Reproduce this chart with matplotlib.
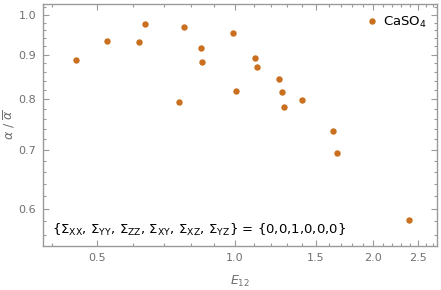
import matplotlib
matplotlib.use("Agg")
import matplotlib.pyplot as plt
from matplotlib.ticker import FixedLocator, NullFormatter

# E12 values and alpha / mean alpha
e12 = [0.450, 0.527, 0.618, 0.636, 0.755, 0.773, 0.842, 0.849, 0.989, 1.004,
       1.104, 1.115, 1.249, 1.264, 1.276, 1.397, 1.637, 1.665, 2.392]
ratio = [0.887, 0.934, 0.930, 0.975, 0.795, 0.969, 0.917, 0.883, 0.954, 0.818,
         0.893, 0.871, 0.844, 0.815, 0.784, 0.798, 0.736, 0.694, 0.582]

x_major = [0.5, 1.0, 1.5, 2.0, 2.5]
x_minor = [0.4, 0.6, 0.7, 0.8, 0.9, 1.1, 1.2, 1.3, 1.4, 1.6, 1.7, 1.8, 1.9,
           2.1, 2.2, 2.3, 2.4, 2.6, 2.7]
y_major = [0.6, 0.7, 0.8, 0.9, 1.0]
y_minor = [0.56, 0.58, 0.62, 0.64, 0.66, 0.68, 0.72, 0.74, 0.76, 0.78,
           0.82, 0.84, 0.86, 0.88, 0.92, 0.94, 0.96, 0.98, 1.02]

sigma_names = ["XX", "YY", "ZZ", "XY", "XZ", "YZ"]
sigma_values = [0, 0, 1, 0, 0, 0]

dot_color = "#c96f1f"
frame_color = "#9a9a9a"
label_color = "#707070"

fig = plt.figure(figsize=(4.41, 2.90), dpi=100)
ax = fig.add_axes([0.0975, 0.152, 0.8935, 0.834])

ax.plot(e12, ratio, "o", color=dot_color, ms=4.6, mec="none", label="CaSO$_4$")

ax.set_xscale("log")
ax.set_yscale("log")
ax.set_xlim(0.382, 2.75)
ax.set_ylim(0.5436, 1.029)

ax.xaxis.set_major_locator(FixedLocator(x_major))
ax.xaxis.set_minor_locator(FixedLocator(x_minor))
ax.yaxis.set_major_locator(FixedLocator(y_major))
ax.yaxis.set_minor_locator(FixedLocator(y_minor))
ax.set_xticklabels(["%.1f" % v for v in x_major])
ax.set_yticklabels(["%.1f" % v for v in y_major])
ax.xaxis.set_minor_formatter(NullFormatter())
ax.yaxis.set_minor_formatter(NullFormatter())

ax.tick_params(which="both", direction="in", top=True, right=True,
               color=frame_color, width=0.8, labelsize=8, labelcolor=label_color)
ax.tick_params(which="major", length=4.5, pad=5)
ax.tick_params(which="minor", length=2.5)
for s in ax.spines.values():
    s.set_color(frame_color)
    s.set_linewidth(1.0)

ax.set_xlabel("$E_{12}$", color=label_color, fontsize=9)
ax.xaxis.set_label_coords(0.5, -0.115)
ax.set_ylabel(r"$\alpha\ /\ \overline{\alpha}$", color=label_color, fontsize=9)
ax.yaxis.set_label_coords(-0.066, 0.5)

ax.legend(loc="upper right", frameon=False, fontsize=9.5, handletextpad=0.3,
          borderaxespad=0.4, handlelength=1.0)

lhs = ", ".join(r"$\Sigma_{\mathrm{%s}}$" % n for n in sigma_names)
rhs = ",".join(str(v) for v in sigma_values)
ax.text(0.022, 0.066, "{" + lhs + "} = {" + rhs + "}",
        transform=ax.transAxes, fontsize=9.5, va="center", ha="left",
        color="black")

fig.savefig("out.png", dpi=100)
